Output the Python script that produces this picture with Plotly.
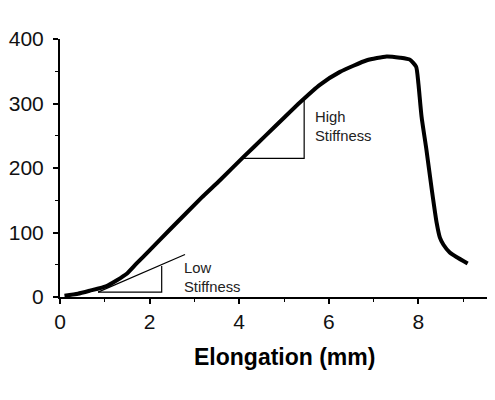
import plotly.graph_objects as go

# Load–elongation curve
elong_mm = [0.1, 0.4, 0.67, 1.04, 1.27, 1.49, 1.71, 2.01, 2.46, 3.16, 3.57, 4.08, 4.6, 5.0, 5.36,
            5.8, 6.25, 6.85, 7.29, 7.59, 7.81, 7.95, 8.0, 8.07, 8.18, 8.30, 8.41, 8.48, 8.56,
            8.7, 8.85, 9.1]
load = [2, 5, 9.8, 17, 26, 36, 52, 73, 105, 154, 181, 216, 251, 278, 302,
        329, 349, 367, 373, 371, 368, 357, 331, 280, 228, 166, 114, 92, 81,
        69, 62, 52]

# Stiffness triangles
low_tangent_x = [0.85, 2.79]
low_tangent_y = [7.5, 66]
low_tri_x = [0.85, 2.27, 2.27]
low_tri_y = [7.5, 7.5, 48]
high_tri_x = [4.08, 5.45, 5.45]
high_tri_y = [215, 215, 305]

x_ticks = [0, 2, 4, 6, 8]
y_ticks = [0, 100, 200, 300, 400]

FONT = "Liberation Sans, Arial, Helvetica, sans-serif"

fig = go.Figure()
fig.add_trace(go.Scatter(x=low_tangent_x, y=low_tangent_y, mode="lines",
                         line=dict(color="black", width=1.2), hoverinfo="skip"))
fig.add_trace(go.Scatter(x=low_tri_x, y=low_tri_y, mode="lines",
                         line=dict(color="black", width=1.2), hoverinfo="skip"))
fig.add_trace(go.Scatter(x=high_tri_x, y=high_tri_y, mode="lines",
                         line=dict(color="black", width=1.2), hoverinfo="skip"))
fig.add_trace(go.Scatter(x=elong_mm, y=load, mode="lines",
                         line=dict(color="black", width=4, shape="spline", smoothing=0.5),
                         cliponaxis=False))

fig.add_annotation(x=2.73, y=31, xref="x", yref="y", text="Low<br>Stiffness",
                   showarrow=False, xanchor="left", yanchor="middle", align="left",
                   font=dict(family=FONT, size=14.8, color="#222"))
fig.add_annotation(x=5.65, y=263.6, xref="x", yref="y", text="High<br>Stiffness",
                   showarrow=False, xanchor="left", yanchor="middle", align="left",
                   font=dict(family=FONT, size=14.8, color="#222"))
fig.add_annotation(x=5.02, y=-0.2326, xref="x", yref="paper", text="<b>Elongation (mm)</b>",
                   showarrow=False, xanchor="center", yanchor="middle",
                   font=dict(family=FONT, size=23, color="black"))

# page body has an 8px default margin, so the figure is shifted accordingly
fig.update_layout(
    width=487, height=392,
    margin=dict(l=52, r=0, t=31, b=103),
    plot_bgcolor="white", paper_bgcolor="white",
    showlegend=False,
    font=dict(family=FONT, color="black"),
)
fig.update_xaxes(range=[0, 9.71], tickvals=x_ticks, ticktext=[str(v) for v in x_ticks],
                 showgrid=False, zeroline=False, showline=True, linecolor="black", linewidth=2,
                 ticks="outside", ticklen=5, tickwidth=1.5, tickcolor="black",
                 minor=dict(dtick=1, tick0=1, ticks="outside", ticklen=3, tickcolor="black", tickwidth=1),
                 tickfont=dict(family=FONT, size=21, color="#111"))
fig.update_yaxes(range=[0, 400], tickvals=y_ticks, ticktext=[str(v) for v in y_ticks],
                 showgrid=False, zeroline=False, showline=True, linecolor="black", linewidth=2,
                 ticks="outside", ticklen=5, tickwidth=1.5, tickcolor="black",
                 minor=dict(dtick=50, tick0=0, ticks="outside", ticklen=3, tickcolor="black", tickwidth=1),
                 tickfont=dict(family=FONT, size=21, color="#111"), ticklabelstandoff=5)

fig.write_html("out.html")
